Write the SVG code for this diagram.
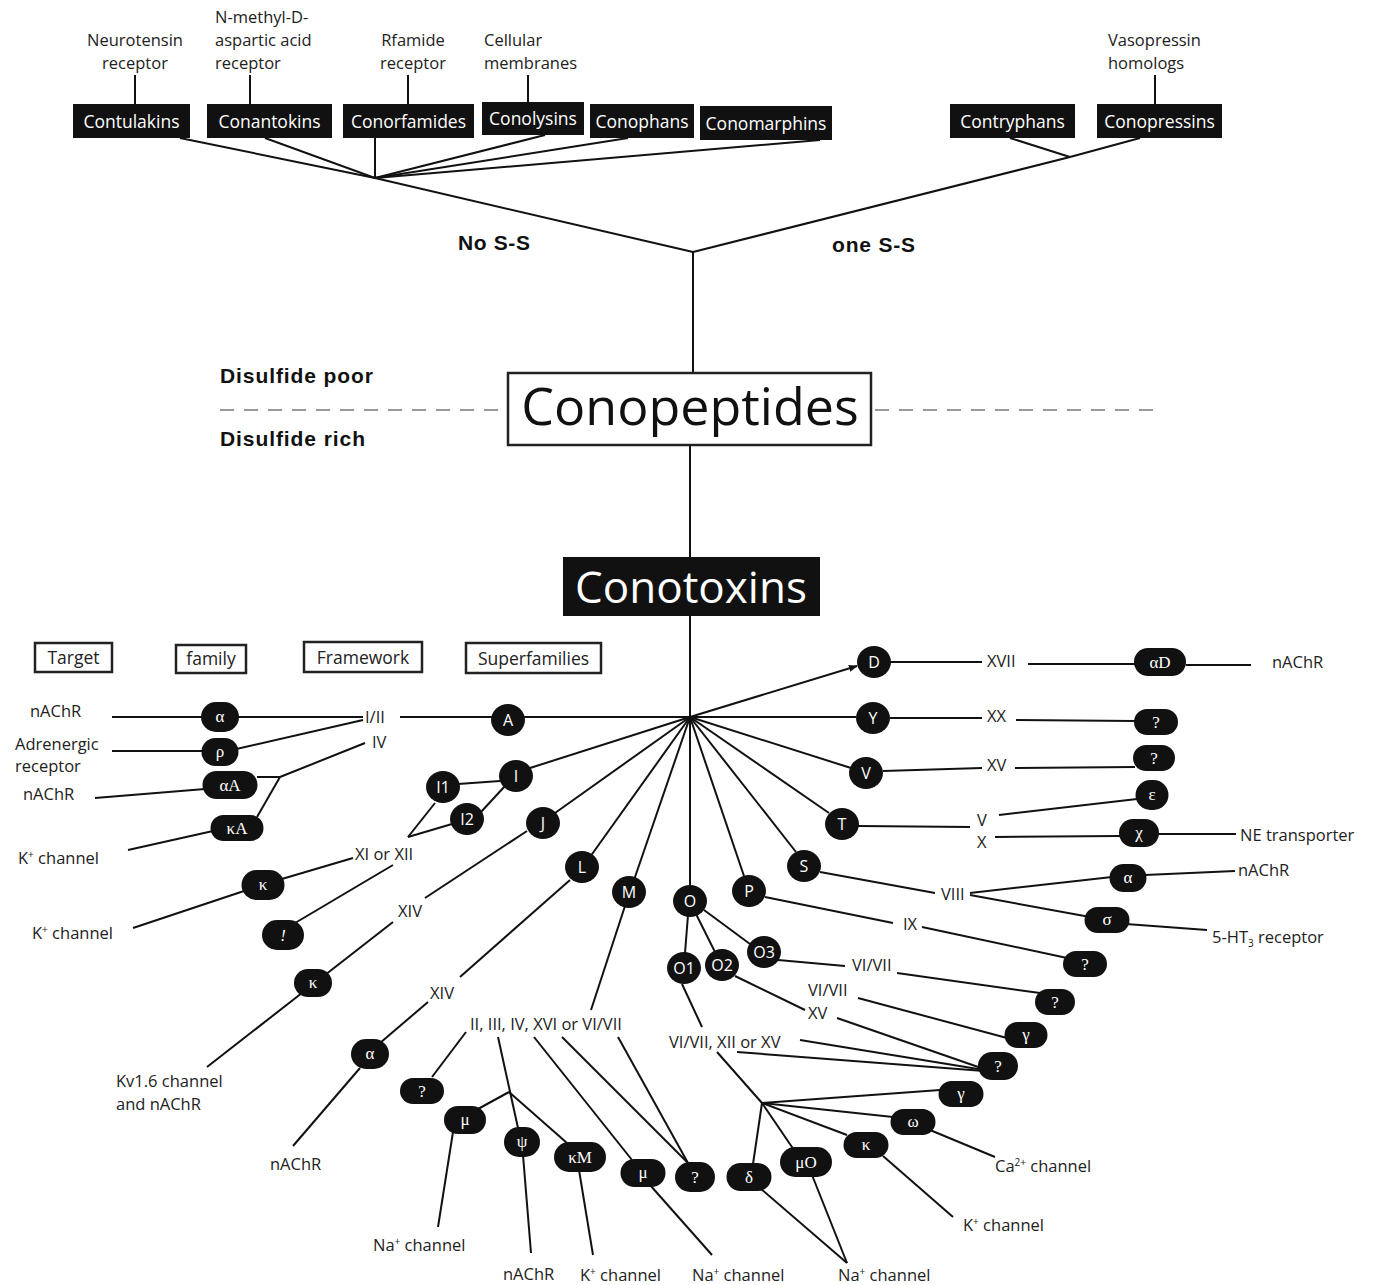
<svg xmlns="http://www.w3.org/2000/svg" width="1373" height="1285" viewBox="0 0 1373 1285">
<defs>
<style>
.ln{stroke:#111;stroke-width:2;fill:none}
.dash{stroke:#999;stroke-width:2;stroke-dasharray:14 10;fill:none}
.t{font-family:"Open Sans","Noto Sans",sans-serif;font-size:16.5px;fill:#222}
.tm{font-family:"Open Sans","Noto Sans",sans-serif;font-size:16.5px;fill:#222;text-anchor:middle}
.b{font-family:"Liberation Sans",Arial,sans-serif;font-weight:bold;font-size:21px;fill:#111}
.bx rect{fill:#111}
.bx text{font-family:"Open Sans","Noto Sans",sans-serif;font-size:17.5px;fill:#fff;text-anchor:middle}
.hd rect{fill:#fff;stroke:#222;stroke-width:2.5}
.hd text{font-family:"Open Sans","Noto Sans",sans-serif;font-size:17.5px;fill:#222;text-anchor:middle}
.sf ellipse{fill:#111}
.sf text{font-family:"Open Sans","Noto Sans",sans-serif;font-size:16px;fill:#fff;text-anchor:middle}
.fm rect{fill:#111}
.fm text{font-family:"Liberation Serif","DejaVu Serif",serif;font-size:17px;fill:#fff;text-anchor:middle}
.sup{font-size:10px}
</style>
<marker id="arr" viewBox="0 0 10 10" refX="9" refY="5" markerWidth="9" markerHeight="9" markerUnits="userSpaceOnUse" orient="auto">
<path d="M0,1 L10,5 L0,9 z" fill="#111"/>
</marker>
</defs>
<rect width="1373" height="1285" fill="#fff"/>

<g id="connectors">
<line class="ln" x1="135" y1="75" x2="135" y2="104"/>
<line class="ln" x1="250" y1="75" x2="250" y2="104"/>
<line class="ln" x1="408" y1="75" x2="408" y2="104"/>
<line class="ln" x1="528" y1="75" x2="528" y2="102"/>
<line class="ln" x1="1155" y1="75" x2="1155" y2="104"/>
<line class="ln" x1="180" y1="138" x2="375" y2="178"/>
<line class="ln" x1="265" y1="138" x2="375" y2="178"/>
<line class="ln" x1="375" y1="138" x2="375" y2="178"/>
<line class="ln" x1="545" y1="135" x2="375" y2="178"/>
<line class="ln" x1="628" y1="138" x2="375" y2="178"/>
<line class="ln" x1="820" y1="140" x2="375" y2="178"/>
<line class="ln" x1="375" y1="178" x2="693" y2="252"/>
<line class="ln" x1="1010" y1="138" x2="1070" y2="157"/>
<line class="ln" x1="1140" y1="138" x2="1070" y2="157"/>
<line class="ln" x1="1070" y1="157" x2="693" y2="252"/>
<line class="ln" x1="693" y1="252" x2="693" y2="373"/>
<line class="dash" x1="220" y1="410" x2="505" y2="410"/>
<line class="dash" x1="875" y1="410" x2="1160" y2="410"/>
<line class="ln" x1="690" y1="445" x2="690" y2="557"/>
<line class="ln" x1="690" y1="616" x2="690" y2="717"/>

<line class="ln" x1="112" y1="717" x2="363" y2="717"/>
<line class="ln" x1="112" y1="751" x2="210" y2="751"/>
<line class="ln" x1="232" y1="750" x2="363" y2="720"/>
<line class="ln" x1="400" y1="717" x2="690" y2="717"/>
<line class="ln" x1="365" y1="743" x2="280" y2="777"/>
<line class="ln" x1="280" y1="777" x2="257" y2="777"/>
<line class="ln" x1="280" y1="777" x2="257" y2="817"/>
<line class="ln" x1="95" y1="798" x2="205" y2="789"/>
<line class="ln" x1="128" y1="850" x2="213" y2="831"/>
<line class="ln" x1="353" y1="858" x2="275" y2="881"/>
<line class="ln" x1="250" y1="889" x2="133" y2="928"/>
<line class="ln" x1="393" y1="865" x2="290" y2="926"/>
<line class="ln" x1="408" y1="837" x2="435" y2="803"/>
<line class="ln" x1="408" y1="837" x2="452" y2="824"/>
<line class="ln" x1="458" y1="784" x2="500" y2="781"/>
<line class="ln" x1="505" y1="786" x2="481" y2="812"/>
<line class="ln" x1="530" y1="768" x2="690" y2="717"/>
<line class="ln" x1="555" y1="813" x2="690" y2="717"/>
<line class="ln" x1="527" y1="831" x2="425" y2="898"/>
<line class="ln" x1="393" y1="922" x2="207" y2="1067"/>
<line class="ln" x1="590" y1="857" x2="690" y2="717"/>
<line class="ln" x1="570" y1="880" x2="460" y2="977"/>
<line class="ln" x1="428" y1="1002" x2="380" y2="1043"/>
<line class="ln" x1="360" y1="1068" x2="293" y2="1146"/>
<line class="ln" x1="634" y1="880" x2="690" y2="717"/>
<line class="ln" x1="625" y1="906" x2="591" y2="1010"/>
<line class="ln" x1="690" y1="885" x2="690" y2="717"/>
<line class="ln" x1="744" y1="876" x2="690" y2="717"/>
<line class="ln" x1="432" y1="1077" x2="466" y2="1032"/>
<line class="ln" x1="498" y1="1037" x2="518" y2="1128"/>
<line class="ln" x1="509" y1="1092" x2="478" y2="1109"/>
<line class="ln" x1="509" y1="1092" x2="567" y2="1143"/>
<line class="ln" x1="534" y1="1037" x2="632" y2="1160"/>
<line class="ln" x1="562" y1="1037" x2="688" y2="1163"/>
<line class="ln" x1="618" y1="1037" x2="688" y2="1163"/>
<line class="ln" x1="453" y1="1132" x2="438" y2="1227"/>
<line class="ln" x1="523" y1="1155" x2="531" y2="1253"/>
<line class="ln" x1="579" y1="1170" x2="593" y2="1255"/>
<line class="ln" x1="650" y1="1185" x2="712" y2="1255"/>
<line class="ln" x1="688" y1="915" x2="685" y2="953"/>
<line class="ln" x1="696" y1="914" x2="715" y2="952"/>
<line class="ln" x1="704" y1="910" x2="750" y2="944"/>
<line class="ln" x1="778" y1="960" x2="845" y2="966"/>
<line class="ln" x1="897" y1="973" x2="1040" y2="993"/>
<line class="ln" x1="858" y1="998" x2="1007" y2="1038"/>
<line class="ln" x1="735" y1="976" x2="805" y2="1010"/>
<line class="ln" x1="837" y1="1018" x2="984" y2="1069"/>
<line class="ln" x1="682" y1="984" x2="702" y2="1027"/>
<line class="ln" x1="800" y1="1040" x2="984" y2="1070"/>
<line class="ln" x1="737" y1="1052" x2="984" y2="1071"/>
<line class="ln" x1="717" y1="1052" x2="762" y2="1103"/>
<line class="ln" x1="762" y1="1103" x2="940" y2="1090"/>
<line class="ln" x1="762" y1="1103" x2="893" y2="1117"/>
<line class="ln" x1="762" y1="1103" x2="847" y2="1135"/>
<line class="ln" x1="762" y1="1103" x2="794" y2="1150"/>
<line class="ln" x1="762" y1="1103" x2="753" y2="1164"/>
<line class="ln" x1="930" y1="1130" x2="995" y2="1157"/>
<line class="ln" x1="883" y1="1156" x2="953" y2="1217"/>
<line class="ln" x1="760" y1="1188" x2="847" y2="1263"/>
<line class="ln" x1="812" y1="1175" x2="847" y2="1263"/>
<line class="ln" x1="765" y1="897" x2="893" y2="923"/>
<line class="ln" x1="922" y1="927" x2="1067" y2="958"/>
<line class="ln" x1="690" y1="717" x2="796" y2="852"/>
<line class="ln" x1="820" y1="872" x2="935" y2="893"/>
<line class="ln" x1="970" y1="893" x2="1112" y2="877"/>
<line class="ln" x1="1145" y1="875" x2="1235" y2="871"/>
<line class="ln" x1="970" y1="895" x2="1090" y2="917"/>
<line class="ln" x1="1126" y1="924" x2="1207" y2="930"/>
<line class="ln" x1="690" y1="717" x2="829" y2="813"/>
<line class="ln" x1="858" y1="826" x2="970" y2="827"/>
<line class="ln" x1="999" y1="815" x2="1137" y2="799"/>
<line class="ln" x1="995" y1="837" x2="1120" y2="836"/>
<line class="ln" x1="1158" y1="834" x2="1236" y2="834"/>
<line class="ln" x1="690" y1="717" x2="851" y2="768"/>
<line class="ln" x1="883" y1="771" x2="982" y2="768"/>
<line class="ln" x1="1015" y1="768" x2="1135" y2="767"/>
<line class="ln" x1="690" y1="717" x2="856" y2="717"/>
<line class="ln" x1="890" y1="718" x2="982" y2="718"/>
<line class="ln" x1="1016" y1="720" x2="1135" y2="721"/>
<line class="ln" x1="690" y1="717" x2="857" y2="666" marker-end="url(#arr)"/>
<line class="ln" x1="890" y1="662" x2="982" y2="662"/>
<line class="ln" x1="1028" y1="664" x2="1136" y2="664"/>
<line class="ln" x1="1186" y1="665" x2="1251" y2="665"/>
</g>

<g id="top-labels">
<text class="tm" x="135" y="46">Neurotensin</text>
<text class="tm" x="135" y="69">receptor</text>
<text class="t" x="215" y="23">N-methyl-D-</text>
<text class="t" x="215" y="46">aspartic acid</text>
<text class="t" x="215" y="69">receptor</text>
<text class="tm" x="413" y="46">Rfamide</text>
<text class="tm" x="413" y="69">receptor</text>
<text class="t" x="484" y="46">Cellular</text>
<text class="t" x="484" y="69">membranes</text>
<text class="t" x="1108" y="46">Vasopressin</text>
<text class="t" x="1108" y="69">homologs</text>
<text class="b" x="458" y="250" textLength="72">No S-S</text>
<text class="b" x="832" y="252" textLength="83">one S-S</text>
<text class="b" x="220" y="383" textLength="153">Disulfide poor</text>
<text class="b" x="220" y="446" textLength="145">Disulfide rich</text>
</g>

<g id="n-contulakins" class="bx"><rect x="73" y="104" width="117" height="34"/><text x="131.5" y="127.5">Contulakins</text></g>
<g id="n-conantokins" class="bx"><rect x="207" y="104" width="125" height="34"/><text x="269.5" y="127.5">Conantokins</text></g>
<g id="n-conorfamides" class="bx"><rect x="343" y="104" width="131" height="34"/><text x="408.5" y="127.5">Conorfamides</text></g>
<g id="n-conolysins" class="bx"><rect x="482" y="102" width="102" height="33"/><text x="533" y="125">Conolysins</text></g>
<g id="n-conophans" class="bx"><rect x="590" y="104" width="104" height="34"/><text x="642" y="127.5">Conophans</text></g>
<g id="n-conomarphins" class="bx"><rect x="700" y="106" width="132" height="34"/><text x="766" y="129.5">Conomarphins</text></g>
<g id="n-contryphans" class="bx"><rect x="950" y="104" width="125" height="34"/><text x="1012.5" y="127.5">Contryphans</text></g>
<g id="n-conopressins" class="bx"><rect x="1097" y="104" width="125" height="34"/><text x="1159.5" y="127.5">Conopressins</text></g>

<g id="n-conopeptides"><rect x="508" y="373" width="363" height="72" fill="#fff" stroke="#222" stroke-width="2.5"/><text x="690" y="425" font-family="'Open Sans','Noto Sans',sans-serif" font-size="52" fill="#111" text-anchor="middle">Conopeptides</text></g>
<g id="n-conotoxins"><rect x="563" y="557" width="257" height="59" fill="#111"/><text x="691" y="603" font-family="'Open Sans','Noto Sans',sans-serif" font-size="44" fill="#fff" text-anchor="middle">Conotoxins</text></g>

<g id="h-target" class="hd"><rect x="35" y="643" width="77" height="29"/><text x="73.5" y="664">Target</text></g>
<g id="h-family" class="hd"><rect x="176" y="645" width="70" height="28"/><text x="211" y="665">family</text></g>
<g id="h-framework" class="hd"><rect x="304" y="642" width="118" height="30"/><text x="363" y="664">Framework</text></g>
<g id="h-superfamilies" class="hd"><rect x="466" y="643" width="135" height="30"/><text x="533.5" y="665">Superfamilies</text></g>

<g id="frameworks">
<text class="t" x="365" y="723">I/II</text>
<text class="t" x="372" y="748">IV</text>
<text class="t" x="355" y="860">XI or XII</text>
<text class="t" x="398" y="917">XIV</text>
<text class="t" x="430" y="999">XIV</text>
<text class="t" x="470" y="1030">II, III,  IV,  XVI or VI/VII</text>
<text class="t" x="669" y="1048">VI/VII, XII or XV</text>
<text class="t" x="852" y="971">VI/VII</text>
<text class="t" x="808" y="996">VI/VII</text>
<text class="t" x="808" y="1019">XV</text>
<text class="t" x="903" y="930">IX</text>
<text class="t" x="941" y="900">VIII</text>
<text class="t" x="977" y="826">V</text>
<text class="t" x="977" y="848">X</text>
<text class="t" x="987" y="771">XV</text>
<text class="t" x="987" y="722">XX</text>
<text class="t" x="987" y="667">XVII</text>
</g>

<g id="targets">
<text class="t" x="30" y="717">nAChR</text>
<text class="t" x="15" y="750">Adrenergic</text>
<text class="t" x="15" y="772">receptor</text>
<text class="t" x="23" y="800">nAChR</text>
<text class="t" x="18" y="864">K<tspan class="sup" dy="-6">+</tspan><tspan dy="6"> channel</tspan></text>
<text class="t" x="32" y="939">K<tspan class="sup" dy="-6">+</tspan><tspan dy="6"> channel</tspan></text>
<text class="t" x="116" y="1087">Kv1.6 channel</text>
<text class="t" x="116" y="1110">and nAChR</text>
<text class="t" x="270" y="1170">nAChR</text>
<text class="t" x="373" y="1251">Na<tspan class="sup" dy="-6">+</tspan><tspan dy="6"> channel</tspan></text>
<text class="t" x="503" y="1280">nAChR</text>
<text class="t" x="580" y="1281">K<tspan class="sup" dy="-6">+</tspan><tspan dy="6"> channel</tspan></text>
<text class="t" x="692" y="1281">Na<tspan class="sup" dy="-6">+</tspan><tspan dy="6"> channel</tspan></text>
<text class="t" x="838" y="1281">Na<tspan class="sup" dy="-6">+</tspan><tspan dy="6"> channel</tspan></text>
<text class="t" x="963" y="1231">K<tspan class="sup" dy="-6">+</tspan><tspan dy="6"> channel</tspan></text>
<text class="t" x="995" y="1172">Ca<tspan class="sup" dy="-6">2+</tspan><tspan dy="6"> channel</tspan></text>
<text class="t" x="1212" y="943">5-HT<tspan class="sup" dy="4">3</tspan><tspan dy="-4"> receptor</tspan></text>
<text class="t" x="1238" y="876">nAChR</text>
<text class="t" x="1240" y="841">NE transporter</text>
<text class="t" x="1272" y="668">nAChR</text>
</g>

<g id="sf-A" class="sf"><ellipse cx="508" cy="720" rx="17" ry="16"/><text x="508" y="726">A</text></g>
<g id="sf-I" class="sf"><ellipse cx="516" cy="776" rx="17" ry="16"/><text x="516" y="782">I</text></g>
<g id="sf-I1" class="sf"><ellipse cx="443" cy="787" rx="17" ry="16"/><text x="443" y="793">I1</text></g>
<g id="sf-I2" class="sf"><ellipse cx="467" cy="819" rx="17" ry="16"/><text x="467" y="825">I2</text></g>
<g id="sf-J" class="sf"><ellipse cx="543" cy="823" rx="17" ry="16"/><text x="543" y="829">J</text></g>
<g id="sf-L" class="sf"><ellipse cx="582" cy="867" rx="17" ry="16"/><text x="582" y="873">L</text></g>
<g id="sf-M" class="sf"><ellipse cx="629" cy="892" rx="17" ry="16"/><text x="629" y="898">M</text></g>
<g id="sf-O" class="sf"><ellipse cx="690" cy="901" rx="17" ry="16"/><text x="690" y="907">O</text></g>
<g id="sf-P" class="sf"><ellipse cx="749" cy="891" rx="17" ry="16"/><text x="749" y="897">P</text></g>
<g id="sf-S" class="sf"><ellipse cx="804" cy="866" rx="17" ry="16"/><text x="804" y="872">S</text></g>
<g id="sf-T" class="sf"><ellipse cx="842" cy="824" rx="17" ry="16"/><text x="842" y="830">T</text></g>
<g id="sf-V" class="sf"><ellipse cx="866" cy="773" rx="17" ry="16"/><text x="866" y="779">V</text></g>
<g id="sf-Y" class="sf"><ellipse cx="873" cy="718" rx="17" ry="16"/><text x="873" y="724">Y</text></g>
<g id="sf-D" class="sf"><ellipse cx="874" cy="662" rx="17" ry="16"/><text x="874" y="668">D</text></g>
<g id="sf-O1" class="sf"><ellipse cx="684" cy="968" rx="17" ry="16"/><text x="684" y="974">O1</text></g>
<g id="sf-O2" class="sf"><ellipse cx="722" cy="965" rx="17" ry="16"/><text x="722" y="971">O2</text></g>
<g id="sf-O3" class="sf"><ellipse cx="764" cy="952" rx="17" ry="16"/><text x="764" y="958">O3</text></g>

<g id="f-alpha1" class="fm"><rect x="201" y="702" width="38" height="30" rx="15"/><text x="220" y="722">α</text></g>
<g id="f-rho" class="fm"><rect x="201.5" y="738" width="37" height="28" rx="14"/><text x="220" y="757">ρ</text></g>
<g id="f-alphaA" class="fm"><rect x="202.5" y="771" width="55" height="28" rx="14"/><text x="230" y="791">αA</text></g>
<g id="f-kappaA" class="fm"><rect x="210.5" y="815" width="53" height="26" rx="13"/><text x="237" y="834">κA</text></g>
<g id="f-kappa1" class="fm"><rect x="241.5" y="870" width="43" height="30" rx="15"/><text x="263" y="890">κ</text></g>
<g id="f-excl" class="fm"><rect x="262" y="920" width="42" height="30" rx="15"/><text x="283" y="941" font-style="italic">!</text></g>
<g id="f-kappa2" class="fm"><rect x="294" y="969" width="38" height="28" rx="14"/><text x="313" y="988">κ</text></g>
<g id="f-alpha2" class="fm"><rect x="351" y="1039" width="38" height="30" rx="15"/><text x="370" y="1059">α</text></g>
<g id="f-q1" class="fm"><rect x="400" y="1078" width="44" height="26" rx="13"/><text x="422" y="1097">?</text></g>
<g id="f-mu1" class="fm"><rect x="444" y="1106" width="42" height="28" rx="14"/><text x="465" y="1125">μ</text></g>
<g id="f-psi" class="fm"><rect x="504" y="1127" width="36" height="30" rx="15"/><text x="522" y="1147">ψ</text></g>
<g id="f-kappaM" class="fm"><rect x="554" y="1142" width="52" height="30" rx="15"/><text x="580" y="1163">κM</text></g>
<g id="f-mu2" class="fm"><rect x="620.5" y="1159" width="45" height="28" rx="14"/><text x="643" y="1178">μ</text></g>
<g id="f-q2" class="fm"><rect x="675" y="1162" width="40" height="30" rx="15"/><text x="695" y="1183">?</text></g>
<g id="f-delta" class="fm"><rect x="726.5" y="1163" width="45" height="28" rx="14"/><text x="749" y="1183">δ</text></g>
<g id="f-muO" class="fm"><rect x="780" y="1147" width="52" height="30" rx="15"/><text x="806" y="1168">μO</text></g>
<g id="f-kappa3" class="fm"><rect x="843.5" y="1132" width="45" height="26" rx="13"/><text x="866" y="1150">κ</text></g>
<g id="f-omega" class="fm"><rect x="890.5" y="1109" width="45" height="26" rx="13"/><text x="913" y="1127">ω</text></g>
<g id="f-gamma1" class="fm"><rect x="938.5" y="1081" width="45" height="26" rx="13"/><text x="961" y="1099">γ</text></g>
<g id="f-q3" class="fm"><rect x="978" y="1052" width="40" height="28" rx="14"/><text x="998" y="1072">?</text></g>
<g id="f-gamma2" class="fm"><rect x="1004.5" y="1022" width="43" height="26" rx="13"/><text x="1026" y="1040">γ</text></g>
<g id="f-q4" class="fm"><rect x="1035" y="989" width="40" height="26" rx="13"/><text x="1055" y="1008">?</text></g>
<g id="f-q5" class="fm"><rect x="1063" y="951" width="44" height="26" rx="13"/><text x="1085" y="970">?</text></g>
<g id="f-sigma" class="fm"><rect x="1084.5" y="907" width="45" height="26" rx="13"/><text x="1107" y="925">σ</text></g>
<g id="f-alpha3" class="fm"><rect x="1109.5" y="864" width="37" height="28" rx="14"/><text x="1128" y="883">α</text></g>
<g id="f-chi" class="fm"><rect x="1119" y="819" width="40" height="28" rx="14"/><text x="1139" y="838">χ</text></g>
<g id="f-epsilon" class="fm"><rect x="1135.5" y="780" width="33" height="30" rx="15"/><text x="1152" y="800">ε</text></g>
<g id="f-q6" class="fm"><rect x="1133" y="745" width="42" height="26" rx="13"/><text x="1154" y="764">?</text></g>
<g id="f-q7" class="fm"><rect x="1134" y="709" width="44" height="26" rx="13"/><text x="1156" y="728">?</text></g>
<g id="f-alphaD" class="fm"><rect x="1134" y="648" width="52" height="28" rx="14"/><text x="1160" y="668">αD</text></g>
</svg>
